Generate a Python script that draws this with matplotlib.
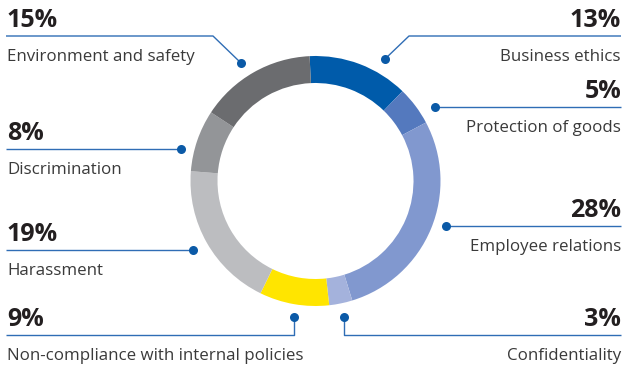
import matplotlib
matplotlib.use("Agg")
import matplotlib.pyplot as plt

W, H = 627, 365

categories = ["Business ethics", "Protection of goods", "Employee relations",
              "Confidentiality", "Non-compliance with internal policies",
              "Harassment", "Discrimination", "Environment and safety"]
values = [13, 5, 28, 3, 9, 19, 8, 15]
colors = ["#005BAA", "#5479BE", "#8198CF", "#A4B2DC", "#FFE500",
          "#BCBDC0", "#939598", "#6B6C6F"]

# layout for each label: side, y of the rule line (image px), leader path (image px)
layout = {
    "Business ethics": ("right", 36, [(621, 36), (409, 36), (385, 59)]),
    "Protection of goods": ("right", 107, [(621, 107), (435, 107)]),
    "Employee relations": ("right", 226, [(621, 226), (446, 226)]),
    "Confidentiality": ("right", 335, [(621, 335), (344, 335), (344, 317)]),
    "Non-compliance with internal policies": ("left", 335, [(6, 335), (294, 335), (294, 317)]),
    "Harassment": ("left", 250, [(6, 250), (193, 250)]),
    "Discrimination": ("left", 149, [(6, 149), (181, 149)]),
    "Environment and safety": ("left", 36, [(6, 36), (213, 36), (241, 63)]),
}

plt.rcParams['font.family'] = ['Open Sans', 'DejaVu Sans']

fig = plt.figure(figsize=(W / 100, H / 100), dpi=100)
ax = fig.add_axes([0, 0, 1, 1])

def Y(y):
    return H - y

cx, cy, R, ring = 315.5, 181, 125, 27
ax.pie(values, colors=colors, center=(cx, Y(cy)), radius=R, startangle=92.7,
       counterclock=False, wedgeprops=dict(width=ring, linewidth=0),
       frame=True)
ax.set_xlim(0, W)
ax.set_ylim(0, H)
ax.set_aspect('equal')
ax.axis('off')

line_col = "#2F6DB5"
dot_col = "#0B5AA7"
for cat, val in zip(categories, values):
    side, ly, path = layout[cat]
    xs = [p[0] for p in path]
    ys = [Y(p[1]) for p in path]
    ax.plot(xs, ys, color=line_col, lw=1.0, solid_capstyle='butt', zorder=3)
    ax.plot([xs[-1]], [ys[-1]], 'o', color=dot_col, ms=6.5, mec='none', zorder=4)
    if side == "left":
        tx, ha = 7, 'left'
    else:
        tx, ha = 621, 'right'
    ax.text(tx, Y(ly - 9), f"{val}%", ha=ha, va='baseline', fontsize=18,
            fontweight='bold', color="#231F20")
    ax.text(tx, Y(ly + 25), cat, ha=ha, va='baseline', fontsize=12.2,
            color="#3A3A3A")

fig.savefig("out.png", dpi=100)
